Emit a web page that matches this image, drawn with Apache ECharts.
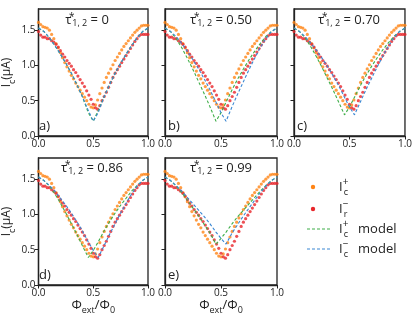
<!DOCTYPE html>
<html>
<head>
<meta charset="utf-8">
<script src="https://cdn.jsdelivr.net/npm/echarts@6/dist/echarts.min.js"></script>
<style>
html, body { margin: 0; padding: 0; background: #fff; }
#chart { width: 415px; height: 323px; }
</style>
</head>
<body>
<div id="chart"></div>
<script>
// flux phase Φext/Φ0 of the measured points
const phase = [0.00, 0.02, 0.04, 0.06, 0.08, 0.10, 0.12, 0.14, 0.16, 0.18,
  0.20, 0.22, 0.24, 0.26, 0.28, 0.30, 0.32, 0.34, 0.36, 0.38,
  0.40, 0.42, 0.44, 0.46, 0.48, 0.50, 0.52, 0.54, 0.56, 0.58,
  0.60, 0.62, 0.64, 0.66, 0.68, 0.70, 0.72, 0.74, 0.76, 0.78,
  0.80, 0.82, 0.84, 0.86, 0.88, 0.90, 0.92, 0.94, 0.96, 0.98, 1.00]

// measured Ic+ (orange) and Ir- (red), µA
const icPlus = [1.61, 1.58, 1.55, 1.54, 1.53, 1.50, 1.44, 1.38, 1.31, 1.25,
  1.18, 1.11, 1.04, 0.98, 0.92, 0.86, 0.81, 0.75, 0.70, 0.65,
  0.60, 0.55, 0.50, 0.45, 0.41, 0.40, 0.44, 0.51, 0.60, 0.68,
  0.76, 0.83, 0.89, 0.95, 1.01, 1.07, 1.12, 1.17, 1.22, 1.27,
  1.31, 1.35, 1.39, 1.43, 1.47, 1.50, 1.53, 1.56, 1.57, 1.57, 1.57]
const irMinus = [1.48, 1.43, 1.40, 1.40, 1.38, 1.38, 1.35, 1.33, 1.30, 1.26,
  1.21, 1.16, 1.12, 1.07, 1.03, 0.99, 0.94, 0.90, 0.85, 0.80,
  0.75, 0.70, 0.64, 0.58, 0.52, 0.45, 0.40, 0.38, 0.43, 0.50,
  0.56, 0.62, 0.69, 0.76, 0.83, 0.89, 0.94, 0.99, 1.04, 1.09,
  1.14, 1.19, 1.24, 1.29, 1.34, 1.38, 1.42, 1.44, 1.44, 1.44, 1.44]

// model curves
const modelPhase = [0, 0.05, 0.10, 0.15, 0.20, 0.25, 0.30, 0.35, 0.40, 0.455, 0.50,
  0.545, 0.60, 0.65, 0.70, 0.75, 0.80, 0.85, 0.90, 0.95, 1.00]
const modelPlusA = [1.53, 1.48, 1.39, 1.28, 1.16, 1.03, 0.89, 0.73, 0.56, 0.33, 0.21, 0.36, 0.56, 0.73, 0.89, 1.03, 1.16, 1.28, 1.39, 1.48, 1.53]
const modelMinusA = [1.53, 1.48, 1.39, 1.28, 1.16, 1.03, 0.89, 0.73, 0.56, 0.36, 0.21, 0.33, 0.56, 0.73, 0.89, 1.03, 1.16, 1.28, 1.39, 1.48, 1.53]
const modelPlusB = [1.53, 1.48, 1.38, 1.25, 1.10, 0.94, 0.77, 0.60, 0.42, 0.21, 0.33, 0.48, 0.66, 0.81, 0.95, 1.08, 1.20, 1.31, 1.41, 1.48, 1.53]
const modelMinusB = [1.53, 1.48, 1.41, 1.31, 1.20, 1.08, 0.95, 0.81, 0.66, 0.48, 0.33, 0.21, 0.42, 0.60, 0.77, 0.94, 1.10, 1.25, 1.38, 1.48, 1.53]
const modelPlusC = [1.53, 1.48, 1.39, 1.27, 1.13, 0.98, 0.82, 0.66, 0.49, 0.30, 0.41, 0.55, 0.72, 0.86, 0.99, 1.11, 1.22, 1.32, 1.41, 1.48, 1.53]
const modelMinusC = [1.53, 1.48, 1.41, 1.32, 1.22, 1.11, 0.99, 0.86, 0.72, 0.55, 0.41, 0.30, 0.49, 0.66, 0.82, 0.98, 1.13, 1.27, 1.39, 1.48, 1.53]
const modelPlusD = [1.53, 1.48, 1.40, 1.29, 1.16, 1.02, 0.87, 0.72, 0.56, 0.39, 0.49, 0.61, 0.77, 0.90, 1.02, 1.13, 1.23, 1.33, 1.41, 1.48, 1.53]
const modelMinusD = [1.53, 1.48, 1.41, 1.33, 1.23, 1.13, 1.02, 0.90, 0.77, 0.61, 0.49, 0.39, 0.56, 0.72, 0.87, 1.02, 1.16, 1.29, 1.40, 1.48, 1.53]
const modelPlusE = [1.53, 1.48, 1.40, 1.31, 1.20, 1.09, 0.98, 0.86, 0.74, 0.58, 0.66, 0.75, 0.87, 0.97, 1.06, 1.15, 1.24, 1.33, 1.41, 1.48, 1.53]
const modelMinusE = [1.53, 1.48, 1.41, 1.33, 1.24, 1.15, 1.06, 0.97, 0.87, 0.75, 0.66, 0.58, 0.74, 0.86, 0.98, 1.09, 1.20, 1.31, 1.40, 1.48, 1.53]

const tauLabels = ['0', '0.50', '0.70', '0.86', '0.99']
const panelTags = ['a)', 'b)', 'c)', 'd)', 'e)']
const xTicks = [0, 0.5, 1]
const yTicks = [0, 0.5, 1, 1.5]
const modelPlus = [modelPlusA, modelPlusB, modelPlusC, modelPlusD, modelPlusE]
const modelMinus = [modelMinusA, modelMinusB, modelMinusC, modelMinusD, modelMinusE]

const FONT = '"Open Sans", "DejaVu Sans", sans-serif'
const INK = '#222'
const ORANGE = '#ff8415'
const RED = '#e8262b'
const GREEN = '#3fae49'
const BLUE = '#3a87d3'

// panel boxes (left, top) in px
const panelPos = [[36, 9], [165, 9], [294, 9], [36, 158], [165, 158]]
const titlePos = [[87, 20], [221, 20], [349, 20], [92, 168], [221, 168]]
const PW = 112, PH = 127

const pairs = (xs, ys) => xs.map((x, k) => [x, ys[k]])

const richMain = { fontSize: 13, fontFamily: FONT, fill: INK, color: INK, lineHeight: 19, verticalAlign: 'middle' }
const richSup = { fontSize: 10, fontFamily: FONT, fill: INK, color: INK, verticalAlign: 'top', width: 1 }
const richSub = { fontSize: 9, fontFamily: FONT, fill: INK, color: INK, verticalAlign: 'bottom' }
// tighter line box for the τ titles so the star sits at the top of τ
const titleRich = {
  m: { ...richMain, lineHeight: 15 },
  p: { ...richSup, fontSize: 10 },
  b: { ...richSub, fontSize: 9 }
}

const grids = [], xAxes = [], yAxes = [], series = [], graphics = []

panelPos.forEach(([left, top], i) => {
  const firstCol = left === 36
  const bottomRow = top > 100
  grids.push({ left, top, width: PW, height: PH, show: true, borderColor: INK, borderWidth: 1.3 })
  xAxes.push({
    gridIndex: i, type: 'value', min: 0, max: 1, interval: 0.5,
    axisLine: { show: true, onZero: false, lineStyle: { color: INK, width: 1.3 } },
    axisTick: { show: true, length: 3.5, lineStyle: { color: INK }, customValues: xTicks },
    axisLabel: { fontSize: 10, color: INK, margin: 3, fontFamily: FONT, customValues: xTicks, formatter: v => v.toFixed(1) },
    splitLine: { show: false },
    name: bottomRow ? '{m|Φ}{s|ext}{m|/Φ}{s|0}' : '',
    nameLocation: 'middle', nameGap: 11,
    nameTextStyle: { rich: { m: { ...richMain, fontSize: 13 }, s: { ...richSub, fontSize: 9 } } }
  })
  yAxes.push({
    gridIndex: i, type: 'value', min: 0, max: 1.8, interval: 0.5,
    axisLine: { show: true, onZero: false, lineStyle: { color: INK, width: 1.3 } },
    axisTick: { show: true, length: 3.5, lineStyle: { color: INK }, customValues: yTicks },
    axisLabel: { show: firstCol, fontSize: 10, color: INK, margin: 3, fontFamily: FONT, customValues: yTicks, formatter: v => v.toFixed(1) },
    splitLine: { show: false },
    name: firstCol ? '{m|I}{s|c}{m|(μA)}' : '',
    nameLocation: 'middle', nameGap: 22, nameRotate: 90,
    nameTextStyle: { rich: { m: { ...richMain, fontSize: 12 }, s: { ...richSub, fontSize: 9 } } }
  })

  series.push({
    type: 'scatter', name: 'Ic+', xAxisIndex: i, yAxisIndex: i,
    data: pairs(phase, icPlus), symbol: 'circle', symbolSize: 3.2,
    itemStyle: { color: ORANGE }, silent: true
  })
  series.push({
    type: 'scatter', name: 'Ir-', xAxisIndex: i, yAxisIndex: i,
    data: pairs(phase, irMinus), symbol: 'circle', symbolSize: 3.2,
    itemStyle: { color: RED }, silent: true
  })
  series.push({
    type: 'line', name: 'Ic+ model', xAxisIndex: i, yAxisIndex: i,
    data: pairs(modelPhase, modelPlus[i]), symbol: 'none',
    lineStyle: { color: GREEN, width: 1.1, type: [3, 2] }, silent: true
  })
  series.push({
    type: 'line', name: 'Ic- model', xAxisIndex: i, yAxisIndex: i,
    data: pairs(modelPhase, modelMinus[i]), symbol: 'none',
    lineStyle: { color: BLUE, width: 1.1, type: [3, 2] }, silent: true
  })

  graphics.push({
    type: 'text', x: titlePos[i][0], y: titlePos[i][1], z: 50,
    style: {
      text: '{m|τ}{p|*}{b|1, 2}{m| = ' + tauLabels[i] + '}',
      align: 'center', textAlign: 'center', verticalAlign: 'middle', textVerticalAlign: 'middle',
      rich: titleRich
    }
  })
  graphics.push({
    type: 'text', x: left + 3, y: top + 117, z: 50,
    style: {
      text: panelTags[i], font: '13px ' + FONT, fill: INK,
      align: 'left', textAlign: 'left', verticalAlign: 'middle', textVerticalAlign: 'middle'
    }
  })
})

// legend, drawn by hand in the empty sixth slot
const legendRows = [
  { y: 187, kind: 'dot', color: ORANGE, text: '{m|I}{p|+}{b|c}' },
  { y: 209, kind: 'dot', color: RED, text: '{m|I}{p|−}{b|r}' },
  { y: 229, kind: 'dash', color: GREEN, text: '{m|I}{p|+}{b|c}{m|   model}' },
  { y: 249, kind: 'dash', color: BLUE, text: '{m|I}{p|−}{b|c}{m|   model}' }
]
legendRows.forEach(r => {
  if (r.kind === 'dot') {
    graphics.push({ type: 'circle', shape: { cx: 313, cy: r.y, r: 2.2 }, style: { fill: r.color } })
  } else {
    graphics.push({
      type: 'line', shape: { x1: 307, y1: r.y, x2: 330, y2: r.y },
      style: { stroke: r.color, lineWidth: 1.2, lineDash: [3, 2] }
    })
  }
  graphics.push({
    type: 'text', x: 339, y: r.y,
    style: {
      text: r.text, align: 'left', textAlign: 'left', verticalAlign: 'middle', textVerticalAlign: 'middle',
      rich: { m: richMain, p: richSup, b: richSub }
    }
  })
})

const myChart = echarts.init(document.getElementById('chart'))
myChart.setOption({
  animation: false,
  backgroundColor: '#fff',
  grid: grids,
  xAxis: xAxes,
  yAxis: yAxes,
  series,
  graphic: graphics
})
</script>
</body>
</html>
